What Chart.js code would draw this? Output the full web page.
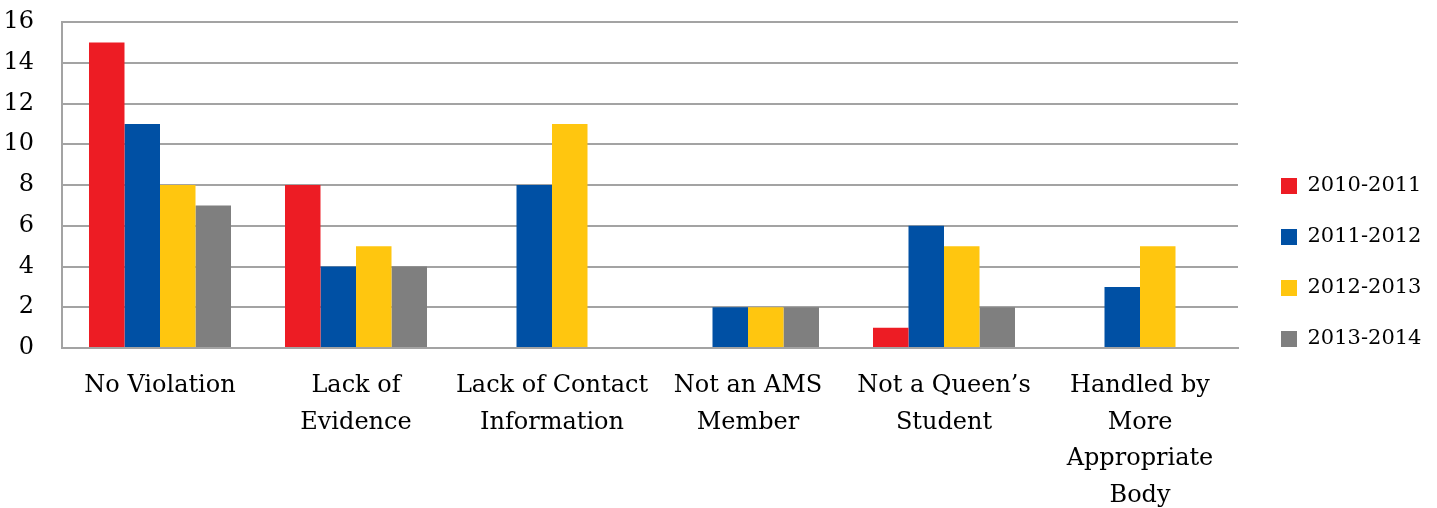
<!DOCTYPE html>
<html>
<head>
<meta charset="utf-8">
<script src="https://cdn.jsdelivr.net/npm/chart.js@4"></script>
<style>
  html, body { margin: 0; padding: 0; background: #fff; }
  #wrap { width: 1437px; height: 508px; position: relative; }
</style>
</head>
<body>
<div id="wrap"><canvas id="myChart"></canvas></div>
<script>
const categorias = [
    ["No Violation"],
    ["Lack of", "Evidence"],
    ["Lack of Contact", "Information"],
    ["Not an AMS", "Member"],
    ["Not a Queen’s", "Student"],
    ["Handled by", "More", "Appropriate", "Body"]
];
const anios = ["2010-2011", "2011-2012", "2012-2013", "2013-2014"];
const valores2010 = [15, 8, 0, 0, 1, 0];
const valores2011 = [11, 4, 8, 2, 6, 3];
const valores2012 = [8, 5, 11, 2, 5, 5];
const valores2013 = [7, 4, 0, 2, 2, 0];
const yTicks = [0, 2, 4, 6, 8, 10, 12, 14, 16];

const colores = ["#ED1C24", "#0050A4", "#FFC60F", "#7F7F7F"];
const series = [valores2010, valores2011, valores2012, valores2013];
const fuente = "'DejaVu Serif', serif";
const gris = "#A3A3A3";

const datasets = series.map((valores, i) => ({
    label: anios[i],
    data: valores,
    backgroundColor: colores[i],
    borderWidth: 0,
    categoryPercentage: 0.7245,
    barPercentage: 1
}));

// legend: fixed width, box moved a bit right of the plot
const ajusteLeyenda = {
    id: "ajusteLeyenda",
    beforeLayout(chart) {
        const leyenda = chart.legend;
        if (leyenda && !leyenda._fitWrapped) {
            const fitOriginal = leyenda.fit;
            leyenda.fit = function () {
                fitOriginal.call(this);
                this.width = 199;
                this.minSize = { width: this.width, height: this.height };
            };
            leyenda._fitWrapped = true;
        }
    },
    afterLayout(chart) {
        const leyenda = chart.legend;
        leyenda.left += 13;
        leyenda.top -= 5;
    }
};

const config = {
    type: "bar",
    data: { labels: categorias, datasets },
    options: {
        responsive: true,
        maintainAspectRatio: false,
        animation: false,
        layout: { padding: { top: 22, right: 0, left: 0, bottom: 0 } },
        plugins: {
            legend: {
                position: "right",
                align: "center",
                labels: {
                    boxWidth: 16,
                    boxHeight: 16,
                    padding: 30,
                    color: "#000",
                    font: { family: fuente, size: 21 }
                }
            },
            tooltip: { enabled: false }
        },
        scales: {
            x: {
                grid: { display: false, drawTicks: false },
                border: { display: true, color: gris, width: 2 },
                ticks: {
                    color: "#000",
                    padding: 20,
                    maxRotation: 0,
                    autoSkip: false,
                    font: { family: fuente, size: 24, lineHeight: 1.52 }
                },
                afterFit(scale) { scale.height = 160; }
            },
            y: {
                min: 0,
                max: 16,
                grid: { color: gris, lineWidth: 2, drawTicks: true, tickLength: 25, tickColor: "rgba(0,0,0,0)" },
                border: { display: true, color: gris, width: 2 },
                afterBuildTicks(scale) {
                    scale.ticks = yTicks.map(v => ({ value: v }));
                },
                ticks: {
                    color: "#000",
                    padding: 3,
                    font: { family: fuente, size: 24 }
                },
                afterFit(scale) { scale.width = 62; }
            }
        }
    },
    plugins: [ajusteLeyenda]
};

const myChart = document.getElementById("myChart");
new Chart(myChart, config);
</script>
</body>
</html>
